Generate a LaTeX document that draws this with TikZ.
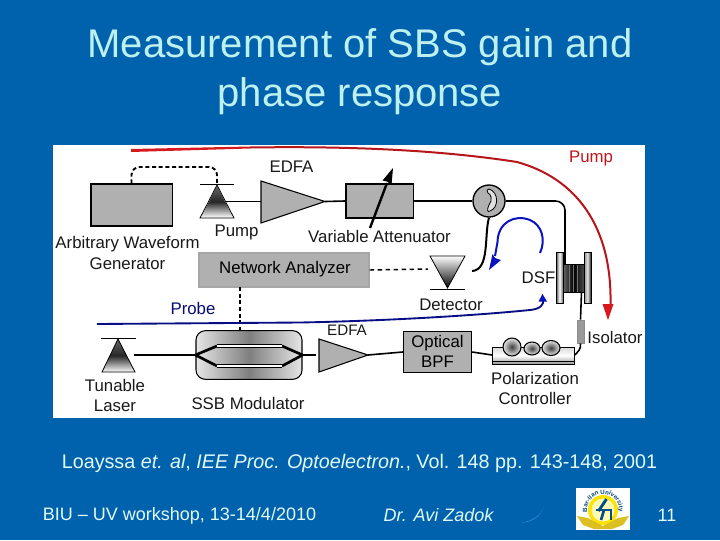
\documentclass[tikz,border=0pt]{standalone}
\usepackage{fontspec}
\setmainfont{Liberation Sans}
\usetikzlibrary{arrows.meta,decorations.text}
\definecolor{slidebg}{RGB}{0,98,172}
\definecolor{titlec}{RGB}{190,240,240}
\definecolor{capc}{RGB}{225,250,250}
\definecolor{boxg}{RGB}{176,176,176}
\definecolor{redc}{RGB}{215,25,30}
\definecolor{bluec}{RGB}{10,20,190}
\definecolor{labelc}{RGB}{25,25,25}
\tikzset{
 x=0.75pt,y=-0.75pt,
 graybox/.style={draw=black,line width=1pt,fill=boxg,inner sep=0pt},
 lbl/.style={font=\fontsize{12.6}{15}\selectfont,text=labelc,inner sep=0pt},
 fib/.style={draw=black,line width=1.2pt},
 slide/.style={inner sep=0pt},
}
\begin{document}
\begin{tikzpicture}
\useasboundingbox (0,0) rectangle (720,540);
\fill[slidebg] (0,0) rectangle (720,540);
\node[slide,text=titlec,align=center,font=\fontsize{30}{37}\selectfont] (title) at (360,71.5) {Measurement of SBS gain and\\phase response};
\fill[white] (53,145) rectangle (645,418);

% top row
\node[graybox,minimum width=61pt,minimum height=31.5pt] (awg) at (131.5,205) {};
\coordinate (pumpTop) at (217,185);
\shade[top color=black!60,bottom color=white,middle color=black!85] (217,186) -- (201,217.5) -- (233,217.5) -- cycle;
\draw[black,line width=.6pt] (217,185) -- (200,218) -- (234,218) -- cycle;
\draw[black,line width=.7pt] (200,184.5) -- (234,184.5);
\draw[black,line width=1.4pt,dash pattern=on 3pt off 2pt,rounded corners=6pt] (awg.north) -- (131.5,167) -- (217,167) -- (pumpTop);
\node[graybox,minimum width=50.5pt,minimum height=25.5pt] (va) at (379.5,201) {};
\filldraw[fill=boxg,draw=black,line width=.8pt] (261,181) -- (325,201.5) -- (261,223) -- cycle;
\coordinate (e1w) at (261,201.5);
\coordinate (e1e) at (325,201.5);
\coordinate (pumpE) at (226,201.5);
\draw[fib] (pumpE) -- (e1w);
\draw[fib] (e1e) -- (va.west);
\node[circle,draw=black,line width=1pt,fill=boxg,minimum size=24pt,inner sep=0pt] (circ) at (489,201) {};
\draw[fib] (va.east) -- (circ.west);
\filldraw[fill=white!88!black,draw=black,line width=.6pt] (489,189) .. controls (499,192) and (499,208) .. (490,211) .. controls (487,213) and (487,209) .. (489,205) .. controls (493,200) and (491,194) .. (488,193) .. controls (486,191) and (487,189) .. (489,189) -- cycle;
% attenuator arrow
\coordinate (vaA) at (370,228);
\draw[black,line width=1.8pt] (vaA) -- (387,183);
\fill[black] (393,168) -- (391.5,185) -- (387,181.5) -- (382.5,180.5) -- cycle;
\node[graybox,draw=black!35,line width=.8pt,minimum width=127.5pt,minimum height=25.5pt] (na) at (284,270) {};
\node[lbl,text=black] at (285,269) (natxt) {Network Analyzer};
% detector
\shade[top color=white,bottom color=black,middle color=black!50] (430,256) -- (465,256) -- (447.5,288) -- cycle;
\draw[black,line width=.6pt] (430,256) -- (465,256) -- (447.5,288) -- cycle;
\draw[black,line width=.7pt] (430,289) -- (465,289);
\coordinate (detW) at (428,269);
\draw[black,line width=1.1pt,dash pattern=on 3.5pt off 2.5pt] (na.east) -- (detW);
\coordinate (detE) at (472,271);
\draw[fib,line width=1.5pt] (circ.south) .. controls (484,235) and (490,270) .. (detE);
% DSF spool
\shade[left color=black!60,right color=black!70,middle color=black] (563,264) rectangle (584,292);
\foreach \xx in {569,573,577}{\draw[black!55,line width=.6pt] (\xx,264) -- (\xx,292);}
\draw[black,line width=.5pt] (563,264) -- (584,264) (563,292) -- (584,292);
\shade[left color=black!70,right color=black!60,middle color=white] (556,252) rectangle (563,303);
\shade[left color=black!45,right color=black!90,middle color=black!10] (584,252) rectangle (591,303);
\draw[black,line width=.4pt] (556,252) rectangle (563,303) (584,252) rectangle (591,303);
\node[lbl] (dsf) at (538.5,278) {DSF};
% circulator to DSF
\coordinate (spoolT) at (565,264);
\draw[fib,rounded corners=7pt] (circ.east) -- (565,201) -- (spoolT);
% SBS arrow
\coordinate (bs) at (540,253);
\draw[bluec,line width=1.5pt] (bs) .. controls (546,240) and (542,225) .. (530,220) .. controls (515,214) and (498,222) .. (497.5,242) -- (495,256);
\fill[bluec] (489,270) -- (492.5,254) -- (495,258) -- (501,260) -- cycle;
% pump arrow (red)
\coordinate (redS) at (131,150);
\fill[redc] (131,149) -- (250,146.5) -- (250,148.5) -- (131,152) -- cycle;
\draw[redc!85!black,line width=1.5pt] (250,147.5) .. controls (350,146) and (440,150) .. (517,162) .. controls (575,178) and (612,225) .. (610.5,304);
\fill[redc] (608,320) -- (602.5,304) -- (613.5,304) -- cycle;
\node[lbl,text=redc!90!black] (pumpl) at (591,158.5) {Pump};
% labels top
\node[lbl] (l1) at (127.5,244) {Arbitrary Waveform};
\node[lbl] (l2) at (127.5,264) {Generator};
\node[lbl] (l3) at (236.5,232) {Pump};
\node[lbl] (l4) at (291.5,167) {EDFA};
\node[lbl] (l5) at (379.5,236) {Variable Attenuator};
\node[lbl] (l6) at (451,305) {Detector};
% bottom row
\shade[bottom color=white,top color=black!60,middle color=black!85] (118,339) -- (102,372) -- (135,372) -- cycle;
\draw[black,line width=.6pt] (118,339) -- (102,372) -- (135,372) -- cycle;
\draw[black,line width=.7pt] (101,338) -- (136,338);
\coordinate (lasE) at (134,355);
\node[draw=black,line width=.8pt,rounded corners=7pt,minimum width=79.5pt,minimum height=36.5pt,inner sep=0pt,left color=white!90!black,right color=white!90!black,middle color=black!50] (ssb) at (249,355) {};
\draw[fib] (lasE) -- (ssb.west);
% MZ arms
\foreach \yy in {346,366}{
 \draw[black,line width=2pt] (ssb.west) -- (217,\yy);
 \draw[black,line width=2pt] (ssb.east) -- (282,\yy);
 \draw[black,line width=2.6pt] (217,\yy) -- (282,\yy);
 \draw[white,line width=1.2pt] (217,\yy) -- (282,\yy);
}
\coordinate (ssbT) at (240,330);
\coordinate (naB) at (240,287);
\draw[black,line width=1.8pt,dash pattern=on 3pt off 2pt] (naB) -- (ssbT);
% probe
\coordinate (probeS) at (97,324);
\draw[bluec!70!black,line width=1.4pt] (probeS) -- (300,322.5) .. controls (380,321) and (470,316) .. (530,310) .. controls (541,309) and (544,304) .. (543,300);
\fill[bluec] (542.5,294) -- (538.5,301.5) -- (547,301.5) -- cycle;
\node[lbl,text=bluec!60!black] (prl) at (193,308) {Probe};
\node[lbl,font=\fontsize{11.4}{14}\selectfont] (l7) at (347,330.5) {EDFA};
% EDFA 2
\filldraw[fill=boxg,draw=black,line width=.8pt] (319,339) -- (368,355) -- (319,372) -- cycle;
\coordinate (e2e) at (368,355);
\coordinate (e2w) at (316,355);
\draw[fib] (ssb.east) -- (e2w);
\node[graybox,minimum width=51pt,minimum height=31pt] (bpf) at (437.5,352) {};
\node[lbl,text=black,align=center] (bpft) at (437.5,351) {Optical\\BPF};
\draw[fib] (e2e) -- (bpf.west);
% polarization controller
\shade[top color=black!15,bottom color=black!40,middle color=white] (492,347) rectangle (574,364);
\draw[black,line width=.7pt] (492,347) rectangle (574,364);
\draw[black,line width=.5pt] (492,361) -- (574,361);
\coordinate (pcW) at (492,355);
\draw[fib] (bpf.east) -- (pcW);
\foreach \xx/\yy/\rx/\ry in {512/347/9/9,532/348.5/8/6.5,551/348/9/7.5}{
 \shade[inner color=black!75,outer color=black!10] (\xx,\yy) ellipse[x radius=\rx,y radius=\ry];
 \draw[black,line width=.8pt] (\xx,\yy) ellipse[x radius=\rx,y radius=\ry];
}
% isolator
\node[draw=black!45,fill=black!40,line width=.5pt,minimum width=5pt,minimum height=17.5pt,inner sep=0pt] (iso) at (580.5,331.5) {};
\coordinate (spoolB) at (581.5,292);
\coordinate (pcE) at (575,355);
\draw[fib] (spoolB) -- (iso.north);
\draw[fib] (iso.south) .. controls (581,350) and (578,351) .. (pcE);
\node[lbl] (l8) at (615,337.5) {Isolator};
\node[lbl,align=center] (l9) at (535,388) {Polarization\\Controller};
\node[lbl,align=center] (l10) at (115,395) {Tunable\\Laser};
\node[lbl] (l11) at (248,403) {SSB Modulator};
% caption & footer
\node[slide,text=capc,font=\fontsize{14.8}{17}\selectfont] (cap) at (359.5,463) {Loayssa \textit{et. al}, \textit{IEE Proc. Optoelectron.}, Vol. 148 pp. 143-148, 2001};
\node[slide,text=capc,font=\fontsize{13.5}{16}\selectfont] (f1) at (179.5,515.5) {BIU – UV workshop, 13-14/4/2010};
\node[slide,text=capc,font=\fontsize{13.5}{16}\itshape\selectfont] (f2) at (438.5,515.5) {Dr. Avi Zadok};
\node[slide,text=capc,font=\fontsize{13.5}{16}\selectfont] (f3) at (667,515.5) {11};
\fill[blue!45!cyan!80!white,opacity=.6] (521,523) .. controls (532,521) and (541,515) .. (544,507) .. controls (541,515) and (534,522) .. (521,523) -- cycle;
% logo
\fill[white] (576,488) rectangle (630,530);
\fill[yellow!85!orange] (603,510) circle[radius=15];
\fill[yellow!30!white] (603,510) circle[radius=11.5];
\fill[yellow!75!orange!85!black] (577,516) -- (588,518) -- (603,526) -- (618,518) -- (629,516) -- (623,525) -- (612,529) -- (594,529) -- (583,525) -- cycle;
\path[decorate,decoration={text along path,text align=center,text={|\fontsize{4.6}{5}\bfseries\color{slidebg!70!black}|Bar-Ilan University}}] (588,515.5) arc[start angle=160,end angle=380,radius=16];
\draw[slidebg!80!black,line width=2.2pt] (606.5,499) -- (598.5,511);
\draw[slidebg!80!black,line width=2pt] (596,510) -- (611,510) -- (611,520);
\draw[slidebg!80!black,line width=2pt] (604,510) -- (601,520);
\end{tikzpicture}
\end{document}
